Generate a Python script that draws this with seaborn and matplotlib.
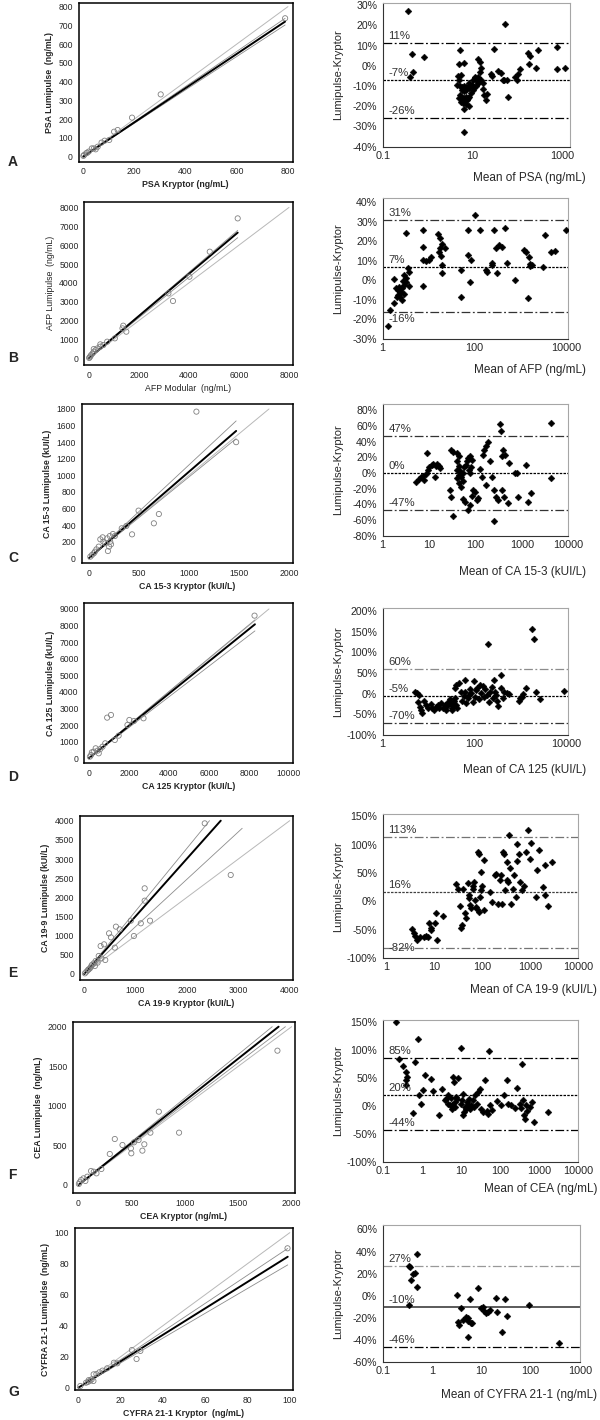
import numpy as np
import matplotlib
matplotlib.use("Agg")
import matplotlib.pyplot as plt
import seaborn as sns

sns.set_theme(style="white")
plt.rcParams["font.family"] = ["Liberation Sans", "DejaVu Sans"]

W, H = 600, 1420

# ---------------- data ----------------
# left column: Kryptor (x) vs Lumipulse (y); fit = [regression, lower CI, upper CI] slopes
psa_pts = np.array([[789, 738], [303, 332], [191, 208], [135, 142], [121, 133], [84, 85], [72, 75],
                    [42, 44], [34, 44], [49, 39], [22, 27], [12, 18], [4, 9], [1, 4], [16, 21],
                    [57, 53], [102, 89]])
psa_fit = [0.913, 0.89, 0.935]

afp_pts = np.array([[5950, 7420], [4833, 5654], [4022, 4329], [3181, 3445], [3364, 3039], [1499, 1413],
                    [1376, 1731], [1346, 1590], [734, 883], [581, 707], [459, 618], [352, 530], [275, 442],
                    [199, 353], [153, 265], [92, 177], [61, 106], [31, 53], [15, 18], [1040, 1060],
                    [459, 742], [199, 495]])
afp_fit = [1.12, 1.075, 1.14]

ca153_pts = np.array([[1075, 1768], [1472, 1400], [497, 575], [700, 534], [650, 422], [432, 289], [191, 88],
                      [203, 141], [222, 169], [214, 201], [184, 241], [210, 269], [138, 253], [115, 229],
                      [164, 181], [99, 141], [76, 108], [61, 80], [50, 60], [31, 40], [15, 20], [260, 269],
                      [241, 293], [329, 362], [375, 390], [145, 201]])
ca153_fit = [1.043, 0.98, 1.125]

ca125_pts = np.array([[8279, 8598], [918, 2451], [1109, 2612], [2027, 2310], [1931, 2009], [2734, 2411],
                      [1300, 1105], [1491, 1366], [822, 904], [574, 562], [344, 603], [440, 462], [249, 402],
                      [153, 362], [115, 201], [57, 100], [497, 301], [688, 703], [2256, 2250]])
ca125_fit = [0.973, 0.925, 1.005]

ca199_pts = np.array([[2346, 3930], [2852, 2583], [1177, 2235], [1177, 1913], [1102, 1322], [1281, 1391],
                      [968, 991], [908, 1391], [618, 1235], [692, 1165], [484, 1061], [521, 957], [596, 687],
                      [320, 730], [387, 774], [283, 470], [335, 409], [261, 296], [186, 278], [149, 235],
                      [134, 191], [112, 148], [74, 104], [45, 61], [15, 17], [223, 339], [410, 365],
                      [209, 209], [89, 122]])
ca199_fit = [1.505, 1.236, 1.64]

cea_pts = np.array([[1867, 1697], [944, 661], [754, 926], [341, 581], [294, 392], [413, 505], [492, 463],
                    [496, 400], [600, 434], [618, 514], [675, 661], [564, 568], [521, 539], [215, 202],
                    [118, 177], [144, 168], [83, 105], [47, 84], [25, 63], [11, 34], [4, 13], [65, 51],
                    [169, 147]])
cea_fit = [1.065, 1.03, 1.10]

cyfra_pts = np.array([[98.9, 89.9], [25.3, 24.3], [27.5, 18.5], [29.3, 23.7], [16.8, 16.1], [18.4, 15.7],
                      [13.6, 12.5], [11.4, 11.0], [9.9, 9.9], [8.5, 8.8], [7.2, 8.6], [6.3, 5.4], [5.6, 4.5],
                      [4.5, 3.7], [3.6, 3.2], [0.9, 1.1], [7.1, 4.3], [4.9, 4.9]])
cyfra_fit = [0.853, 0.80, 0.907]

# right column: mean of both methods (x) vs % difference (y); bias = [mean, upper limit, lower limit]
psa_ba = np.array([[0.36, 27.0], [0.45, 5.6], [0.46, -3.0], [0.40, -5.4], [0.84, 4.4], [4.8, -5.1], [5.5, -4.8],
                   [4.9, -7.1], [4.5, -9.4], [5.3, -10.0], [5.8, -10.7], [6.5, -10.0], [7.1, -10.7], [7.7, -10.7],
                   [8.4, -11.2], [5.8, -12.0], [6.4, -12.4], [7.1, -12.0], [5.2, -14.7], [4.9, -16.1],
                   [5.8, -15.7], [6.5, -16.1], [7.1, -15.3], [7.7, -15.7], [6.0, -17.0], [6.7, -17.5],
                   [7.5, -17.0], [5.5, -17.8], [6.2, -18.6], [7.1, -18.9], [8.2, -19.9], [6.3, -21.6],
                   [6.3, -32.6], [5.3, 7.7], [4.9, 0.8], [6.3, 1.5], [8.4, -15.3], [9.2, -13.7], [10.0, -12.0],
                   [10.9, -10.7], [11.8, -10.0], [12.9, -8.7], [14.0, -7.9], [15.3, -7.1], [13.3, -5.4],
                   [14.6, -3.0], [15.3, -1.3], [12.9, 3.1], [14.6, 2.0], [16.7, -8.4], [17.3, -11.7],
                   [18.2, -14.7], [19.7, -17.0], [21.3, -14.2], [10.0, -7.1], [11.4, -6.3], [12.2, -7.6],
                   [8.4, -8.4], [9.6, -9.6], [11.1, -5.8], [29.3, 8.1], [26.8, -5.1], [25.4, -4.3],
                   [35.9, -2.5], [42.5, -3.5], [46.4, -7.1], [53.0, 20.6], [62, -15.3], [50.5, -7.1],
                   [57, -6.8], [86, -5.4], [96, -7.0], [104, -4.0], [114, -1.8], [171, 6.4], [190, 4.8],
                   [181, 0.7], [255, -1.0], [280, 8.0], [745, 9.4], [745, -1.8], [1100, -1.3]])
psa_bias = [-7, 11, -26]

afp_ba = np.array([[1.47, -15.1], [1.33, -23.1], [1.78, -11.7], [1.78, 0.8], [1.96, -3.7], [2.15, -4.9],
                   [2.37, -5.7], [2.15, -7.4], [2.37, -8.3], [2.61, -10.0], [2.87, -7.1], [2.61, -4.0],
                   [2.87, -2.3], [3.16, -1.0], [2.87, 2.8], [3.16, 1.4], [2.51, -6.1], [2.24, -3.2],
                   [2.07, -8.3], [2.71, -0.3], [3.83, 4.5], [3.48, 6.2], [3.16, 24.1], [3.83, -2.7],
                   [7.5, -2.7], [7.5, 10.5], [8.6, 10.0], [10.0, 10.5], [11.0, 12.2], [7.5, 17.3], [7.5, 25.8],
                   [16.2, 23.6], [17.8, 21.6], [17.8, 16.5], [17.1, 14.7], [19.6, 18.5], [18.5, 12.7],
                   [19.6, 7.9], [19.6, 3.7], [22.4, 16.5], [51, -8.3], [51, 5.4], [71, 25.8], [71, 13.0],
                   [83, 10.5], [78, -1.0], [100, 33.2], [133, 25.8], [178, 5.4], [185, 4.2], [237, 7.9],
                   [245, 8.8], [261, 25.8], [287, 16.5], [316, 3.7], [348, 18.2], [398, 17.3], [464, 26.7],
                   [511, 8.8], [750, 0.2], [1212, 15.6], [1334, 14.4], [1468, -9.1], [1525, 12.2],
                   [1620, 7.6], [1778, 7.9], [1650, 8.2], [3160, 6.6], [3480, 23.3], [4640, 14.7],
                   [5620, 15.1], [9600, 25.8]])
afp_bias = [7, 31, -16]

ca153_ba = np.array([[5.3, -10.9], [6.1, -7.9], [6.7, -5.3], [7.4, -3.6], [7.8, -8.7], [8.4, -1.1], [9.4, 4.1],
                     [10.2, 7.5], [11.4, 10.4], [12.3, 11.7], [13.8, 9.2], [14.9, 11.7], [16.7, 9.2],
                     [13.1, -4.5], [8.9, 25.4], [17.4, 6.2], [29.6, 29.6], [32.6, 27.1], [27.9, -21.5],
                     [29.6, -30.1], [32.6, -54.8], [40.8, 25.4], [43.2, 21.1], [40.8, 14.7], [44.9, 9.2],
                     [40.8, 4.1], [47.5, 1.9], [43.2, -2.3], [49.4, -5.3], [40.8, -6.6], [54.4, -9.6],
                     [44.9, -13.0], [49.4, -17.3], [54.4, -0.2], [57.4, 7.5], [63, 10.4], [68, 19.0],
                     [75, 22.0], [66, 14.7], [82, 16.8], [72, 4.1], [80, 7.5], [77, -0.2], [54.4, -33.5],
                     [60, -36.5], [68, -47.1], [77, -40.7], [87, -21.5], [96, -23.7], [106, -34.3],
                     [116, -32.2], [82, -29.2], [128, 4.9], [135, -5.3], [146, 23.2], [155, 29.6],
                     [170, 33.9], [187, 39.0], [206, 14.7], [226, -5.3], [170, -15.1], [250, -21.5],
                     [275, -30.1], [300, -34.3], [250, -60.8], [330, 62.5], [350, 53.1], [380, 21.1],
                     [400, 29.6], [440, 23.2], [380, -21.5], [420, -30.1], [490, -38.6], [530, 12.6],
                     [710, 0.6], [780, -0.2], [810, -30.1], [1250, 10.4], [1380, -36.5], [1610, -24.9],
                     [4200, 64.0], [4200, -6.6]])
ca153_bias = [0, 47, -47]

ca125_ba = np.array([[5.1, 3.2], [5.6, 0.8], [6.2, -3.2], [5.8, -19.4], [6.6, -31.5], [6.8, -39.5],
                     [7.1, -47.6], [7.9, -17.7], [8.6, -27.4], [9.6, -33.9], [11.0, -25.8], [12.1, -35.5],
                     [13.3, -39.5], [14.7, -31.5], [16.2, -27.4], [17.1, -35.5], [18.5, -23.4], [20.7, -33.9],
                     [22.4, -27.4], [23.7, -39.5], [25.1, -29.0], [26.1, -19.4], [28.7, -12.9], [30.6, -25.8],
                     [31.6, -33.9], [32.9, -39.5], [34.8, -27.4], [36.3, -17.7], [38.3, -9.7], [39.8, -27.4],
                     [42.2, -35.5], [37.0, 12.9], [40.5, 21.0], [46.4, 25.0], [51, 4.8], [54, -17.7],
                     [58, -4.8], [62, 33.1], [62, 4.8], [65, -23.4], [71, -11.3], [75, -3.2], [80, 11.3],
                     [85, 0.8], [91, -19.4], [96, 30.6], [104, -7.3], [110, 8.9], [116, 14.5], [125, -12.9],
                     [133, 21.0], [141, 0.8], [153, 19.4], [162, -7.3], [171, 11.3], [185, -3.2], [195, 119],
                     [207, -19.4], [215, 4.8], [237, 16.9], [251, -11.3], [261, 33.1], [276, 4.8], [287, -3.2],
                     [316, -17.7], [328, -29.0], [370, 45.2], [383, 14.5], [422, -11.3], [445, 4.8],
                     [511, 0.8], [562, -1.6], [909, -17.7], [1000, -11.3], [1100, -7.3], [1160, -1.6],
                     [1330, 12.9], [1780, 156], [1960, 131], [2150, 4.8], [2610, -12.9], [9100, 6.5]])
ca125_bias = [-5, 60, -70]

ca199_ba = np.array([[3.5, -49.3], [3.8, -56.3], [4.0, -61.0], [4.4, -68.0], [5.1, -62.2], [6.1, -63.3],
                     [6.9, -60.0], [7.6, -62.0], [8.0, -38.5], [8.7, -47.3], [8.9, -50.1], [10.8, -38.5],
                     [11.2, -20.6], [11.8, -68.0], [15.6, -25.6], [29.3, 30.6], [32.1, 21.2], [35.1, -8.3],
                     [37.0, -47.3], [38.3, -41.3], [39.8, 21.2], [44.3, -20.6], [47.4, -29.4], [50.2, 31.7],
                     [53, 11.2], [55, 5.4], [57, -6.5], [60, -10.7], [64, 27.0], [66, 21.2], [68, 34.6],
                     [72, 2.5], [76, -9.2], [79, -12.4], [82, 87.3], [86, 84.4], [91, 8.3], [98, 52.2],
                     [103, 27.0], [109, -15.1], [113, 73.9], [86, -18.1], [95, 19.6], [149, 17.1],
                     [163, -0.5], [187, 46.4], [201, 48.1], [212, -3.6], [233, 37.6], [255, 46.4],
                     [268, -3.6], [281, 87.3], [292, 84.4], [309, 19.6], [326, 69.8], [336, 37.6],
                     [355, 34.6], [366, 116.6], [385, 58.1], [400, -3.6], [436, 22.4], [477, 46.4],
                     [530, 102], [525, 8.3], [550, 71.7], [592, 83.2], [630, 34.6], [690, 20.0], [754, 27.0],
                     [825, 87.3], [910, 126.6], [1020, 75.6], [1080, 103], [1320, 8.3], [1410, 55.1],
                     [1560, 90.2], [1860, 24.7], [2040, 64.0], [2040, 11.2], [2440, -8.3], [2930, 69.8]])
ca199_bias = [16, 113, -82]

cea_ba = np.array([[0.22, 151], [0.26, 84.5], [0.33, 71.4], [0.40, 60.7], [0.41, 51.8], [0.40, 45.8],
                   [0.39, 36.9], [0.68, 78.6], [0.80, 120], [0.85, 19.0], [0.95, 4.2], [0.61, -11.9],
                   [1.2, 56.0], [1.1, 28.0], [1.7, 48.8], [1.9, 26.2], [2.8, -15.5], [3.3, 31.0], [3.9, 10.1],
                   [4.1, 13.1], [4.6, 19.0], [4.8, 4.2], [5.2, 1.2], [5.5, 14.3], [5.8, -4.8], [6.1, 1.2],
                   [6.5, 51.8], [6.8, 42.9], [7.0, 7.1], [7.3, -1.8], [7.6, 16.1], [8.1, 13.1], [8.7, 50.0],
                   [10.2, 103.6], [10.2, 4.2], [11.0, 10.1], [11.4, 22.0], [11.4, -16.7], [12.0, -10.7],
                   [12.8, -1.8], [13.7, -4.8], [14.3, 7.1], [15.0, 1.2], [16.1, 13.1], [17.1, -4.8],
                   [18.8, 2.4], [20.1, 10.1], [21.5, -1.8], [23.6, 19.0], [25.3, 4.2], [28.3, 25.0],
                   [31.6, 31.0], [33.8, -4.8], [37.0, -10.7], [53, 97.6], [42.1, 46.0], [46.3, -9.5],
                   [49.6, -13.7], [55, 1.2], [62, -7.7], [87, 8.3], [110, 1.2], [130, 19.0], [150, 45.8],
                   [160, 4.2], [190, 1.2], [240, -3.6], [280, 32.1], [320, 4.2], [350, -3.6], [380, 75.6],
                   [400, 10.1], [420, -16.7], [440, -22.6], [475, 1.2], [505, -9.5], [590, -1.8],
                   [660, 7.1], [740, -28.6], [1700, -10.7]])
cea_bias = [20, 85, -44]

cyfra_ba = np.array([[0.50, 38.1], [0.34, 26.7], [0.35, 26.1], [0.42, 20.1], [0.46, 20.7], [0.38, 14.1],
                     [0.50, 8.1], [0.34, -8.4], [3.2, 1.2], [3.9, -11.4], [3.4, -23.4], [3.6, -26.4],
                     [4.2, -21.9], [4.9, -19.5], [5.3, -20.4], [5.5, -22.8], [6.1, -24.3], [5.9, -2.4],
                     [6.6, -24.3], [5.5, -36.9], [8.7, 7.5], [10.0, -11.4], [10.7, -9.9], [11.3, -13.5],
                     [12.4, -15.9], [13.5, -14.4], [14.8, -12.9], [20.3, -1.5], [21.1, -14.4], [26.2, -32.4],
                     [30.3, -2.4], [33.1, -18.3], [95, -7.8], [370, -42.3]])
cyfra_bias = [-10, 27, -46]

letters = ["A", "B", "C", "D", "E", "F", "G"]

# ---------------- layout (pixels) ----------------
fig = plt.figure(figsize=(W / 100, H / 100), dpi=100)


def add_ax(l, t, r, b):
    return fig.add_axes([l / W, 1 - b / H, (r - l) / W, (b - t) / H])


left_specs = [
    dict(box=(78.5, 2.7, 292.8, 161.7), pts=psa_pts, fit=psa_fit, fit_xmax=789, ident=800,
         xlim=(-18, 819), ylim=(-27, 821), xs=200, ys=100,
         xl="PSA Kryptor (ng/mL)", yl="PSA Lumipulse  (ng/mL)", bold=True),
    dict(box=(84.2, 201.7, 292.8, 365), pts=afp_pts, fit=afp_fit, fit_xmax=5950, ident=8000,
         xlim=(-184, 8152), ylim=(-353, 8304), xs=2000, ys=1000,
         xl="AFP Modular  (ng/mL)", yl="AFP Lumipulse  (ng/mL)", bold=False),
    dict(box=(81.5, 404, 292.8, 563.3), pts=ca153_pts, fit=ca153_fit, fit_xmax=1472, ident=1800,
         xlim=(-73, 2038), ylim=(-60, 1860), xs=500, ys=200,
         xl="CA 15-3 Kryptor (kUI/L)", yl="CA 15-3 Lumipulse (kUI/L)", bold=True),
    dict(box=(84.2, 603.3, 292.8, 763.3), pts=ca125_pts, fit=ca125_fit, fit_xmax=8300, ident=9000,
         xlim=(-229, 10191), ylim=(-301, 9341), xs=2000, ys=1000,
         xl="CA 125 Kryptor (kUI/L)", yl="CA 125 Lumipulse (kUI/L)", bold=True),
    dict(box=(79.6, 816, 292.8, 980), pts=ca199_pts, fit=ca199_fit, fit_xmax=3075, ident=4000,
         xlim=(-89, 4060), ylim=(-157, 4122), xs=1000, ys=500,
         xl="CA 19-9 Kryptor (kUI/L)", yl="CA 19-9 Lumipulse (kUI/L)", bold=True),
    dict(box=(72.7, 1021.7, 294.7, 1193.3), pts=cea_pts, fit=cea_fit, fit_xmax=1950, ident=2000,
         xlim=(-54, 2029), ylim=(-105, 2063), xs=500, ys=500,
         xl="CEA Kryptor (ng/mL)", yl="CEA Lumipulse  (ng/mL)", bold=True),
    dict(box=(74.6, 1228.3, 292.8, 1390), pts=cyfra_pts, fit=cyfra_fit, fit_xmax=99, ident=100,
         xlim=(-1.8, 101.4), ylim=(-1.5, 102.8), xs=20, ys=20,
         xl="CYFRA 21-1 Kryptor  (ng/mL)", yl="CYFRA 21-1 Lumipulse  (ng/mL)", bold=True),
]

dec_a = [0.1, 1, 10, 100, 1000]
dec_b = [1, 10, 100, 1000, 10000]
dec_f = [0.1, 1, 10, 100, 1000, 10000]

right_specs = [
    dict(box=(382.7, 3, 570.2, 146.7), pts=psa_ba, bias=psa_bias, xlim=(0.1, 1470), ylim=(-40, 31),
         yt=range(-40, 31, 10), xt=dec_a, xtl=["0.1", "", "10", "", "1000"],
         xl="Mean of PSA (ng/mL)", xl_x=586, xl_dy=31, cols=("black", "black", "black"), lab_pos="above"),
    dict(box=(382.7, 198.3, 567.5, 339), pts=afp_ba, bias=afp_bias, xlim=(1, 10600), ylim=(-30, 42),
         yt=range(-30, 41, 10), xt=dec_b, xtl=["1", "", "100", "", "10000"],
         xl="Mean of AFP (ng/mL)", xl_x=586, xl_dy=31, cols=("black", "0.2", "0.2"), lab_pos="below"),
    dict(box=(382.7, 404, 568.3, 535.7), pts=ca153_ba, bias=ca153_bias, xlim=(1, 10000), ylim=(-80, 88),
         yt=range(-80, 81, 20), xt=dec_b, xtl=["1", "10", "100", "1000", "10000"],
         xl="Mean of CA 15-3 (kUI/L)", xl_x=586, xl_dy=36, cols=("black", "0.2", "0.2"), lab_pos="above"),
    dict(box=(382.7, 608, 567.5, 735), pts=ca125_ba, bias=ca125_bias, xlim=(1, 10600), ylim=(-100, 207),
         yt=range(-100, 201, 50), xt=dec_b, xtl=["1", "", "100", "", "10000"],
         xl="Mean of CA 125 (kUI/L)", xl_x=586, xl_dy=35, cols=("black", "0.55", "0.2"), lab_pos="above"),
    dict(box=(382.7, 814, 577.9, 958.3), pts=ca199_ba, bias=ca199_bias, xlim=(0.86, 10000), ylim=(-100, 154),
         yt=range(-100, 151, 50), xt=dec_b, xtl=["1", "10", "100", "1000", "10000"],
         xl="Mean of CA 19-9 (kUI/L)", xl_x=597, xl_dy=32, cols=("0.25", "0.45", "0.45"), lab_pos="on"),
    dict(box=(382.7, 1020, 577.9, 1161.7), pts=cea_ba, bias=cea_bias, xlim=(0.1, 10000), ylim=(-100, 154),
         yt=range(-100, 151, 50), xt=dec_f, xtl=["0.1", "1", "10", "100", "1000", "10000"],
         xl="Mean of CEA (ng/mL)", xl_x=597, xl_dy=27, cols=("black", "black", "black"), lab_pos="above"),
    dict(box=(382.7, 1225, 579.8, 1362.3), pts=cyfra_ba, bias=cyfra_bias, xlim=(0.1, 1000), ylim=(-60, 64),
         yt=range(-60, 61, 20), xt=dec_a, xtl=["0.1", "1", "10", "100", "1000"],
         xl="Mean of CYFRA 21-1 (ng/mL)", xl_x=597, xl_dy=33, cols=("0.3", "0.6", "black"), lab_pos="above"),
]

letter_y = [162, 358, 558, 777, 973, 1175, 1392]

# ---------------- left column: method comparison ----------------
for sp in left_specs:
    ax = add_ax(*sp["box"])
    ax.plot([0, sp["ident"]], [0, sp["ident"]], color="0.72", lw=0.7, zorder=1)
    for k, s in enumerate(sp["fit"]):
        xe = min(sp["fit_xmax"], sp["ident"] / s)
        if k == 0:
            ax.plot([0, xe], [0, s * xe], color="black", lw=1.4, zorder=3)
        else:
            ax.plot([0, xe], [0, s * xe], color="0.55", lw=0.6, zorder=2)
    pts = sp["pts"]
    sns.scatterplot(x=pts[:, 0], y=pts[:, 1], ax=ax, marker="o", s=14,
                    facecolor="none", edgecolor="0.5", linewidth=0.6, zorder=4)
    ax.set_xlim(sp["xlim"])
    ax.set_ylim(sp["ylim"])
    ax.set_xticks(np.arange(0, sp["xlim"][1], sp["xs"]))
    ax.set_yticks(np.arange(0, sp["ylim"][1], sp["ys"]))
    ax.tick_params(direction="out", length=2.5, width=0.6, labelsize=6.2, pad=1.5, colors="0.15")
    for s in ax.spines.values():
        s.set_linewidth(1.1)
        s.set_color("black")
    w = "bold" if sp["bold"] else "normal"
    ax.set_xlabel(sp["xl"], fontsize=6.3, fontweight=w, labelpad=3)
    ax.set_ylabel(sp["yl"], fontsize=6.3, fontweight=w, labelpad=3)

# ---------------- right column: Bland-Altman ----------------
dashdot = (0, (7, 2, 1.5, 2))
for sp in right_specs:
    l, t, r, b = sp["box"]
    ax = add_ax(l, t, r, b)
    ax.set_xscale("log")
    mean, upper, lower = sp["bias"]
    mc, uc, lc = sp["cols"]
    if sp is right_specs[-1]:
        ax.axhline(mean, color=mc, lw=1.3, zorder=1)
    else:
        ax.axhline(mean, color=mc, lw=0.9, ls=(0, (2, 1)), zorder=1)
    ax.axhline(upper, color=uc, lw=0.9, ls=dashdot, zorder=1)
    ax.axhline(lower, color=lc, lw=0.9, ls=dashdot, zorder=1)

    pts = sp["pts"]
    sns.scatterplot(x=pts[:, 0], y=pts[:, 1], ax=ax, marker="D", s=12, color="black",
                    edgecolor="black", linewidth=0.3, zorder=3)

    for v in (upper, mean):
        ax.annotate(f"{v}%", xy=(0.03, v), xycoords=("axes fraction", "data"), xytext=(0, 1.5),
                    textcoords="offset points", va="bottom", ha="left", fontsize=8.2, color="0.2")
    if sp["lab_pos"] == "below":
        ax.annotate(f"{lower}%", xy=(0.03, lower), xycoords=("axes fraction", "data"), xytext=(0, -1.5),
                    textcoords="offset points", va="top", ha="left", fontsize=8.2, color="0.2")
    elif sp["lab_pos"] == "on":
        ax.annotate(f"{lower}%", xy=(0.03, lower), xycoords=("axes fraction", "data"), xytext=(0, 0),
                    textcoords="offset points", va="center", ha="left", fontsize=8.2, color="0.2")
    else:
        ax.annotate(f"{lower}%", xy=(0.03, lower), xycoords=("axes fraction", "data"), xytext=(0, 1.5),
                    textcoords="offset points", va="bottom", ha="left", fontsize=8.2, color="0.2")

    ax.set_xlim(sp["xlim"])
    ax.set_ylim(sp["ylim"])
    ax.set_yticks(list(sp["yt"]))
    ax.set_yticklabels([f"{v}%" for v in sp["yt"]])
    ax.set_xticks(sp["xt"])
    ax.set_xticklabels(sp["xtl"])
    ax.xaxis.set_minor_locator(matplotlib.ticker.LogLocator(base=10, subs=np.arange(2, 10), numticks=20))
    ax.xaxis.set_minor_formatter(matplotlib.ticker.NullFormatter())
    ax.tick_params(axis="x", which="major", direction="in", length=4, width=0.6, labelsize=7.8, pad=3,
                   colors="0.15")
    ax.tick_params(axis="x", which="minor", direction="in", length=2, width=0.5, colors="0.3")
    ax.tick_params(axis="y", direction="out", length=2.5, width=0.6, labelsize=7.6, pad=1.5, colors="0.15")
    for name, s in ax.spines.items():
        if name in ("left", "bottom"):
            s.set_color("0.2")
            s.set_linewidth(0.8)
        else:
            s.set_color("0.65")
            s.set_linewidth(0.8)

    bw, bh = r - l, b - t
    ax.set_xlabel(sp["xl"], fontsize=8.5, color="0.15")
    ax.xaxis.set_label_coords((sp["xl_x"] - l) / bw, -sp["xl_dy"] / bh)
    ax.xaxis.label.set_ha("right")
    ax.xaxis.label.set_va("center")
    ax.set_ylabel("Lumipulse-Kryptor", fontsize=8, color="0.15")
    ax.yaxis.set_label_coords((343 - l) / bw, 0.5)

for letter, y in zip(letters, letter_y):
    fig.text(8 / W, 1 - y / H, letter, fontsize=10, fontweight="bold", ha="left", va="center")

fig.savefig("out.png", dpi=100)
